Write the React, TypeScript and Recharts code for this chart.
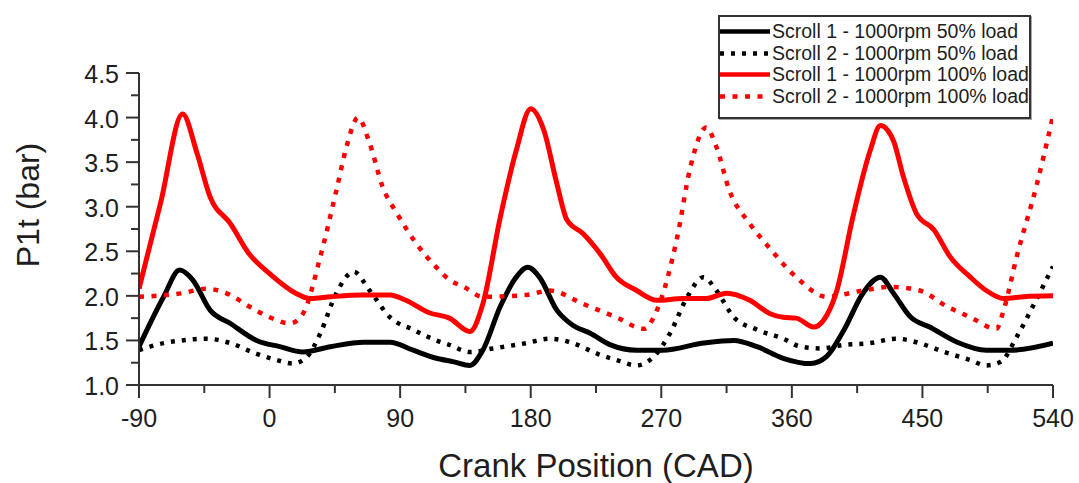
import React from 'react';
import { LineChart, Line, XAxis, YAxis, Legend } from 'recharts';

// Crank angle axis (degrees) and pressure axis (bar)
const crankTicks = [-90, -45, 0, 45, 90, 135, 180, 225, 270, 315, 360, 405, 450, 495, 540];
const pressureTicks = [1, 1.25, 1.5, 1.75, 2, 2.25, 2.5, 2.75, 3, 3.25, 3.5, 3.75, 4, 4.25, 4.5];

// Scroll 1 - 1000rpm 50% load
const scroll1Load50Cad = [-90, -73, -62, -53, -41, -27, -9, 7, 23, 42, 65, 83, 99, 115, 127, 138, 147, 159, 170, 178, 186, 198, 209, 221, 235, 253, 271, 299, 320, 336, 354, 373, 384, 396, 409, 421, 430, 442, 455, 474, 494, 511, 540];
const scroll1Load50P = [1.43, 1.99, 2.29, 2.18, 1.84, 1.69, 1.5, 1.43, 1.37, 1.43, 1.48, 1.48, 1.39, 1.3, 1.26, 1.22, 1.39, 1.88, 2.21, 2.32, 2.21, 1.84, 1.67, 1.58, 1.45, 1.39, 1.39, 1.47, 1.5, 1.43, 1.3, 1.24, 1.32, 1.62, 2.03, 2.21, 2.03, 1.76, 1.65, 1.48, 1.39, 1.39, 1.47];

// Scroll 2 - 1000rpm 50% load
const scroll2Load50Cad = [-90, -73, -60, -44, -27, -9, 5, 16, 26, 35, 46, 58, 69, 83, 99, 115, 124, 138, 154, 177, 193, 209, 226, 239, 253, 265, 276, 288, 299, 308, 320, 336, 354, 366, 380, 396, 414, 432, 448, 465, 483, 494, 504, 515, 527, 540];
const scroll2Load50P = [1.39, 1.47, 1.5, 1.52, 1.47, 1.35, 1.28, 1.24, 1.32, 1.58, 2.03, 2.27, 2.06, 1.76, 1.62, 1.5, 1.45, 1.37, 1.41, 1.47, 1.52, 1.47, 1.35, 1.28, 1.22, 1.32, 1.58, 1.99, 2.21, 2.06, 1.76, 1.62, 1.52, 1.43, 1.41, 1.45, 1.47, 1.52, 1.47, 1.37, 1.28, 1.22, 1.26, 1.54, 1.91, 2.33];

// Scroll 1 - 1000rpm 100% load
const scroll1Load100Cad = [-90, -75, -60, -50, -41, -27, -14, 0, 18, 28, 42, 64, 83, 94, 110, 124, 138, 147, 159, 170, 180, 189, 198, 205, 216, 228, 239, 253, 267, 285, 301, 315, 331, 345, 354, 363, 375, 382, 391, 402, 414, 421, 430, 437, 446, 458, 469, 483, 494, 506, 520, 540];
const scroll1Load100P = [2.08, 3.05, 4.04, 3.6, 3.11, 2.81, 2.47, 2.25, 2.03, 1.97, 1.99, 2.01, 2.01, 1.95, 1.81, 1.75, 1.6, 1.91, 2.88, 3.63, 4.1, 3.86, 3.26, 2.85, 2.7, 2.47, 2.21, 2.06, 1.95, 1.97, 1.97, 2.03, 1.95, 1.8, 1.76, 1.75, 1.65, 1.73, 2.06, 2.88, 3.63, 3.91, 3.74, 3.33, 2.92, 2.74, 2.44, 2.21, 2.06, 1.97, 1.99, 2.0];

// Scroll 2 - 1000rpm 100% load
const scroll2Load100Cad = [-90, -60, -44, -27, -14, 0, 14, 23, 35, 46, 53, 61, 69, 78, 88, 101, 115, 124, 134, 147, 177, 193, 216, 239, 258, 267, 281, 290, 301, 308, 317, 331, 345, 363, 384, 409, 428, 448, 467, 483, 501, 506, 515, 529, 540];
const scroll2Load100P = [1.99, 2.03, 2.08, 2.01, 1.88, 1.76, 1.69, 1.8, 2.44, 3.18, 3.67, 4.0, 3.71, 3.22, 2.92, 2.59, 2.32, 2.18, 2.1, 1.99, 2.01, 2.06, 1.91, 1.76, 1.63, 1.84, 2.66, 3.44, 3.89, 3.67, 3.18, 2.81, 2.53, 2.21, 1.99, 2.06, 2.1, 2.06, 1.88, 1.76, 1.63, 1.84, 2.44, 3.26, 4.02];

const toRows = (cad: number[], p: number[]) => cad.map((c, i) => ({ cad: c, p: p[i] }));

const FONT = '"Liberation Sans", Arial, sans-serif';
const INK = '#1e1e1e';
const AXIS = '#333';

const SERIES = [
  { key: 's1-50', name: 'Scroll 1 - 1000rpm 50% load', data: toRows(scroll1Load50Cad, scroll1Load50P), color: '#000000', width: 5, dash: undefined as string | undefined },
  { key: 's2-50', name: 'Scroll 2 - 1000rpm 50% load', data: toRows(scroll2Load50Cad, scroll2Load50P), color: '#000000', width: 4.5, dash: '4 7' },
  { key: 's1-100', name: 'Scroll 1 - 1000rpm 100% load', data: toRows(scroll1Load100Cad, scroll1Load100P), color: '#ff0000', width: 5, dash: undefined as string | undefined },
  { key: 's2-100', name: 'Scroll 2 - 1000rpm 100% load', data: toRows(scroll2Load100Cad, scroll2Load100P), color: '#ff0000', width: 4.5, dash: '5 7.5' },
];

const XTick = (props: any) => {
  const { x, y, payload } = props;
  const v = payload.value as number;
  const major = v % 90 === 0;
  return (
    <g>
      <line x1={x} x2={x} y1={y} y2={y + (major ? 13 : 8)} stroke={AXIS} strokeWidth={2} />
      {major && (
        <text x={x} y={y + 42} textAnchor="middle" fontSize={25} fontFamily={FONT} fill={INK}>
          {v}
        </text>
      )}
    </g>
  );
};

const YTick = (props: any) => {
  const { x, y, payload } = props;
  const v = payload.value as number;
  const major = Math.abs(v * 2 - Math.round(v * 2)) < 1e-6;
  return (
    <g>
      <line x1={x - (major ? 13 : 8)} x2={x} y1={y} y2={y} stroke={AXIS} strokeWidth={2} />
      {major && (
        <text x={x - 20} y={y} dy="0.4em" textAnchor="end" fontSize={25} fontFamily={FONT} fill={INK}>
          {v.toFixed(1)}
        </text>
      )}
    </g>
  );
};

const XTitle = (props: any) => {
  const vb = props.viewBox || { x: 139, y: 385, width: 914, height: 98 };
  return (
    <text x={vb.x + vb.width / 2} y={vb.y + 92} textAnchor="middle" fontSize={33} fontFamily={FONT} fill={INK}>
      Crank Position (CAD)
    </text>
  );
};

const YTitle = (props: any) => {
  const vb = props.viewBox || { x: 0, y: 73, width: 139, height: 312 };
  const cx = vb.x + 28;
  const cy = vb.y + vb.height / 2 - 24;
  return (
    <text
      x={cx}
      y={cy}
      transform={`rotate(-90, ${cx}, ${cy})`}
      textAnchor="middle"
      dominantBaseline="central"
      fontSize={32}
      fontFamily={FONT}
      fill={INK}
    >
      P1t (bar)
    </text>
  );
};

const LegendBox = () => (
  <div
    style={{
      width: 309,
      height: 96,
      border: `2px solid ${AXIS}`,
      background: '#fff',
      boxShadow: '1px 1px 0 #aaa',
      paddingTop: 4,
      boxSizing: 'content-box',
      fontFamily: FONT,
    }}
  >
    {SERIES.map((s) => (
      <div key={s.key} style={{ display: 'flex', alignItems: 'center', height: 21.5 }}>
        <svg width={50} height={21} style={{ display: 'block', flex: 'none' }}>
          <line x1={0} x2={50} y1={10.5} y2={10.5} stroke={s.color} strokeWidth={4.5} strokeDasharray={s.dash} />
        </svg>
        <span style={{ marginLeft: 2, fontSize: 19.5, color: INK, whiteSpace: 'nowrap', lineHeight: '21px' }}>{s.name}</span>
      </div>
    ))}
  </div>
);

export default function App() {
  return (
    <div style={{ position: 'absolute', left: 0, top: 0, width: 1079, height: 483, background: '#fff' }}>
      <LineChart width={1079} height={483} margin={{ top: 73, right: 26, bottom: 0, left: 0 }}>
        <XAxis
          dataKey="cad"
          type="number"
          domain={[-90, 540]}
          ticks={crankTicks}
          interval={0}
          allowDataOverflow
          height={98}
          tickSize={0}
          tickMargin={0}
          tickLine={false}
          axisLine={{ stroke: AXIS, strokeWidth: 2 }}
          tick={XTick}
          label={XTitle}
        />
        <YAxis
          dataKey="p"
          type="number"
          domain={[1, 4.5]}
          ticks={pressureTicks}
          interval={0}
          allowDataOverflow
          width={139}
          tickSize={0}
          tickMargin={0}
          tickLine={false}
          axisLine={{ stroke: AXIS, strokeWidth: 2 }}
          tick={YTick}
          label={YTitle}
        />
        <Legend
          layout="vertical"
          align="center"
          verticalAlign="middle"
          content={LegendBox}
          wrapperStyle={{ position: 'absolute', left: 718, top: 15, width: 313, height: 102 }}
        />
        {SERIES.map((s) => (
          <Line
            key={s.key}
            data={s.data}
            dataKey="p"
            name={s.name}
            type="monotone"
            stroke={s.color}
            strokeWidth={s.width}
            strokeDasharray={s.dash}
            dot={false}
            activeDot={false}
            isAnimationActive={false}
          />
        ))}
      </LineChart>
    </div>
  );
}
